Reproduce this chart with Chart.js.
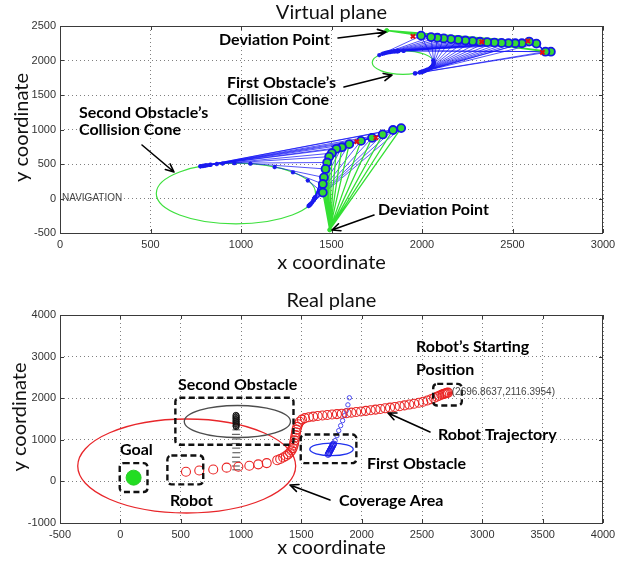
<!DOCTYPE html>
<html>
<head>
<meta charset="utf-8">
<script src="https://cdn.jsdelivr.net/npm/chart.js@4.4.1/dist/chart.umd.min.js"></script>
<style>
  html, body { margin: 0; padding: 0; background: #fff; }
  #wrap { position: relative; width: 624px; height: 561px; overflow: hidden; }
  canvas { position: absolute; left: 0; }
  #virtual { top: 0; }
  #real { top: 280px; }
</style>
</head>
<body>
<div id="wrap">
  <canvas id="virtual" width="624" height="280"></canvas>
  <canvas id="real" width="624" height="281"></canvas>
</div>
<script>
// ---------------- Virtual plane ----------------
const virtualXTicks = [0, 500, 1000, 1500, 2000, 2500, 3000];
const virtualYTicks = [-500, 0, 500, 1000, 1500, 2000, 2500];

// robot positions while avoiding the second obstacle
const secondPathX = [1885, 1840, 1783, 1724, 1663, 1598, 1557, 1527, 1502, 1487, 1476, 1467, 1458, 1452, 1452];
const secondPathY = [1020, 993, 928, 879, 835, 788, 743, 720, 657, 606, 522, 428, 305, 210, 87];
// tangent points of the cone on the second obstacle's circle
const secondTanUpX = [775, 777, 789, 796, 803, 812, 827, 833, 866, 898, 963, 1052, 1186, 1287, 1369];
const secondTanUpY = [466, 466, 472, 475, 478, 482, 487, 490, 499, 506, 512, 505, 456, 379, 261];
const secondTanLowX = [1373, 1377, 1381, 1387, 1393, 1400, 1403, 1406, 1407, 1408, 1408, 1408, 1406, 1402, 1380];
const secondTanLowY = [-110, -100, -90, -75, -56, -31, -15, -1, 9, 14, 14, 10, -2, -21, -91];
const secondDeviation = [1490, -455];
const secondCone = { cx: 972, cy: 72, rx: 440, ry: 440 };

// robot positions while avoiding the first obstacle
const firstPathX = [2712, 2682, 2632, 2592, 2552, 2515, 2478, 2440, 2400, 2360, 2320, 2280, 2240, 2200, 2160, 2120, 2085, 2050, 1995];
const firstPathY = [2128, 2128, 2245, 2275, 2250, 2250, 2252, 2255, 2260, 2266, 2272, 2280, 2290, 2300, 2310, 2320, 2330, 2340, 2360];
const firstTanUpX = [1898, 1898, 1871, 1863, 1867, 1866, 1864, 1861, 1857, 1852, 1847, 1840, 1832, 1823, 1813, 1802, 1792, 1781, 1764];
const firstTanUpY = [2140, 2140, 2138, 2137, 2138, 2137, 2137, 2137, 2136, 2135, 2133, 2131, 2128, 2124, 2119, 2112, 2105, 2096, 2078];
const firstTanLowX = [1961, 1963, 1987, 1996, 1997, 2001, 2007, 2012, 2019, 2026, 2033, 2041, 2048, 2054, 2059, 2063, 2065, 2065, 2062];
const firstTanLowY = [1813, 1814, 1827, 1833, 1834, 1837, 1842, 1847, 1854, 1862, 1871, 1882, 1896, 1910, 1927, 1945, 1961, 1977, 2001];
const firstDeviation = [1805, 2435];
const firstCone = { cx: 1895, cy: 1970, rx: 170, ry: 170 };

// highlighted (red) samples
const virtualRedX = [1950, 2330, 2585, 2665, 1640, 1745];
const virtualRedY = [2350, 2270, 2282, 2118, 825, 880];

// ---------------- Real plane ----------------
const realXTicks = [-500, 0, 500, 1000, 1500, 2000, 2500, 3000, 3500, 4000];
const realYTicks = [-1000, 0, 1000, 2000, 3000, 4000];

const robotX = [544, 654, 770, 881, 978, 1069, 1143, 1213, 1300, 1325, 1350, 1372, 1390, 1405, 1418, 1428, 1435, 1440,
  1444, 1448, 1452, 1456, 1460, 1466, 1474, 1486, 1505, 1530, 1562, 1598, 1636, 1675, 1715, 1755, 1795, 1835, 1875, 1915,
  1955, 1995, 2035, 2075, 2115, 2155, 2195, 2235, 2275, 2315, 2355, 2395, 2435, 2475, 2510, 2545, 2575, 2600, 2622, 2642,
  2660, 2674, 2684, 2692, 2700, 2708, 2716];
const robotY = [233, 262, 285, 330, 353, 377, 410, 440, 510, 540, 575, 610, 650, 695, 745, 800, 860, 920,
  985, 1050, 1115, 1180, 1245, 1310, 1375, 1435, 1485, 1520, 1542, 1558, 1572, 1585, 1597, 1608, 1618, 1628, 1640, 1653,
  1667, 1681, 1696, 1711, 1726, 1741, 1757, 1773, 1790, 1808, 1827, 1847, 1868, 1890, 1915, 1945, 1975, 2005, 2035, 2060,
  2082, 2098, 2107, 2114, 2120, 2127, 2134];
const robotStart = [2696.8637, 2116.3954];

// second obstacle motion
const obstacle2DenseX = [958, 962, 957, 961, 958, 962, 957, 961, 959, 962, 958, 960];
const obstacle2DenseY = [1590, 1565, 1540, 1515, 1490, 1465, 1440, 1415, 1390, 1365, 1340, 1315];
const obstacle2TrailX = [962, 958, 961, 957, 960, 962, 958, 960, 957, 961];
const obstacle2TrailY = [1240, 1130, 1020, 910, 800, 690, 580, 470, 370, 280];
// first obstacle motion
const obstacle1DenseX = [1722, 1727, 1731, 1736, 1740, 1745, 1749, 1754, 1758, 1763, 1767];
const obstacle1DenseY = [650, 675, 700, 725, 750, 775, 800, 825, 850, 875, 900];
const obstacle1TrailX = [1780, 1795, 1810, 1826, 1842, 1858, 1872, 1886, 1898];
const obstacle1TrailY = [980, 1100, 1220, 1340, 1460, 1580, 1700, 1840, 2010];

const goalX = [110];
const goalY = [90];

const coverageArea = { cx: 550, cy: 370, rx: 903, ry: 1130 };
const obstacle2Shape = { cx: 970, cy: 1440, rx: 440, ry: 385 };
const obstacle1Shape = { cx: 1750, cy: 770, rx: 180, ry: 150 };

// dashed call-out boxes [x0, x1, y0, y1]
const boxSecond = [456, 1435, 880, 2010];
const boxFirst = [1495, 1956, 440, 1128];
const boxGoal = [-5, 225, -256, 440];
const boxRobot = [390, 687, -72, 624];
const boxStart = [2593, 2830, 1824, 2344];

// ---------------- helpers ----------------
function pts(xs, ys) { return xs.map((x, i) => ({ x: x, y: ys[i] })); }

// many separate segments in one dataset, split by null gaps
function fan(fromX, fromY, toX, toY) {
  const out = [];
  for (let i = 0; i < toX.length; i++) {
    const fx = Array.isArray(fromX) ? fromX[i] : fromX;
    const fy = Array.isArray(fromY) ? fromY[i] : fromY;
    out.push({ x: fx, y: fy }, { x: toX[i], y: toY[i] }, { x: toX[i], y: null });
  }
  return out;
}

function linearAxis(ticks, fit, pad) {
  return {
    type: 'linear',
    min: ticks[0],
    max: ticks[ticks.length - 1],
    afterBuildTicks(s) { s.ticks = ticks.map(v => ({ value: v })); },
    afterFit(s) { if (s.isHorizontal()) s.height = fit; else s.width = fit; },
    ticks: {
      color: '#333', padding: pad, maxRotation: 0, autoSkip: false,
      font: { family: 'Liberation Sans', size: 11 },
      callback: v => String(v)
    },
    grid: { color: '#808080', lineWidth: 1, drawTicks: false },
    border: { display: false, dash: [1, 3] }
  };
}

function drawArrow(ctx, x1, y1, x2, y2) {
  const a = Math.atan2(y2 - y1, x2 - x1);
  const h = 9, s = 0.42;
  ctx.beginPath();
  ctx.moveTo(x1, y1); ctx.lineTo(x2, y2);
  ctx.moveTo(x2 - h * Math.cos(a - s), y2 - h * Math.sin(a - s));
  ctx.lineTo(x2, y2);
  ctx.lineTo(x2 - h * Math.cos(a + s), y2 - h * Math.sin(a + s));
  ctx.stroke();
}

function decor(cfg) {
  return {
    id: 'decor',
    beforeDatasetsDraw(chart) {
      const { ctx, chartArea: a, scales: { x: xs, y: ys } } = chart;
      ctx.save();
      ctx.beginPath(); ctx.rect(a.left, a.top, a.right - a.left, a.bottom - a.top); ctx.clip();
      (cfg.ellipses || []).forEach(e => {
        const cx = xs.getPixelForValue(e.shape.cx), cy = ys.getPixelForValue(e.shape.cy);
        const rx = Math.abs(xs.getPixelForValue(e.shape.cx + e.shape.rx) - cx);
        const ry = Math.abs(ys.getPixelForValue(e.shape.cy + e.shape.ry) - cy);
        ctx.beginPath();
        ctx.ellipse(cx, cy, rx, ry, e.rot || 0, 0, Math.PI * 2);
        ctx.strokeStyle = e.color; ctx.lineWidth = e.width;
        ctx.stroke();
      });
      ctx.restore();
    },
    afterDraw(chart) {
      const { ctx, chartArea: a, scales: { x: xs, y: ys } } = chart;
      ctx.save();
      // dashed call-out boxes
      ctx.strokeStyle = '#111'; ctx.lineWidth = 2.4; ctx.setLineDash([6, 3.5]);
      (cfg.boxes || []).forEach(b => {
        const x0 = xs.getPixelForValue(b[0]), x1 = xs.getPixelForValue(b[1]);
        const y0 = ys.getPixelForValue(b[3]), y1 = ys.getPixelForValue(b[2]);
        ctx.beginPath();
        ctx.roundRect(x0, y0, x1 - x0, y1 - y0, 4);
        ctx.stroke();
      });
      ctx.setLineDash([]);
      // axes frame with inward ticks
      ctx.strokeStyle = '#3a3a3a'; ctx.lineWidth = 1;
      ctx.strokeRect(a.left + 0.5, a.top + 0.5, a.right - a.left - 1, a.bottom - a.top);
      ctx.beginPath();
      xs.ticks.forEach(t => {
        const p = Math.round(xs.getPixelForValue(t.value)) + 0.5;
        ctx.moveTo(p, a.bottom); ctx.lineTo(p, a.bottom - 4);
        ctx.moveTo(p, a.top); ctx.lineTo(p, a.top + 4);
      });
      ys.ticks.forEach(t => {
        const p = Math.round(ys.getPixelForValue(t.value)) + 0.5;
        ctx.moveTo(a.left, p); ctx.lineTo(a.left + 4, p);
        ctx.moveTo(a.right, p); ctx.lineTo(a.right - 4, p);
      });
      ctx.stroke();
      // title and axis titles
      const mid = (a.left + a.right) / 2;
      ctx.fillStyle = '#111';
      ctx.textAlign = 'center'; ctx.textBaseline = 'middle';
      ctx.font = '20px Lato';
      ctx.fillText(cfg.title, mid, cfg.titleY);
      ctx.fillText('x coordinate', mid, cfg.xTitleY);
      ctx.save();
      ctx.translate(cfg.yTitleX, (a.top + a.bottom) / 2 - 2);
      ctx.rotate(-Math.PI / 2);
      ctx.fillText('y coordinate', 0, 0);
      ctx.restore();
      // small plain labels placed at data positions
      (cfg.plainLabels || []).forEach(l => {
        ctx.font = '10px Liberation Sans'; ctx.fillStyle = '#444';
        ctx.textAlign = 'left'; ctx.textBaseline = 'middle';
        ctx.fillText(l.text, xs.getPixelForValue(l.x) + l.dx, ys.getPixelForValue(l.y) + l.dy);
      });
      // bold call-out notes and arrows
      ctx.fillStyle = '#000'; ctx.textAlign = 'left'; ctx.textBaseline = 'middle';
      ctx.font = 'bold 16px Lato';
      (cfg.notes || []).forEach(n => {
        n.lines.forEach((s, i) => ctx.fillText(s, n.x, n.y + i * (n.lh || 17)));
      });
      ctx.strokeStyle = '#000'; ctx.lineWidth = 1.6; ctx.lineCap = 'round'; ctx.lineJoin = 'round';
      (cfg.arrows || []).forEach(r => drawArrow(ctx, r[0], r[1], r[2], r[3]));
      ctx.restore();
    }
  };
}

const blueLine = 'rgba(18,18,245,0.9)';
const greenLine = '#33e033';

// ---------------- Virtual plane chart ----------------
new Chart(document.getElementById('virtual'), {
  type: 'scatter',
  data: {
    datasets: [
      { // cone edges toward tangent points
        data: fan(secondPathX, secondPathY, secondTanUpX, secondTanUpY)
          .concat(fan(secondPathX, secondPathY, secondTanLowX, secondTanLowY))
          .concat(fan(firstPathX, firstPathY, firstTanUpX, firstTanUpY))
          .concat(fan(firstPathX, firstPathY, firstTanLowX, firstTanLowY)),
        showLine: true, spanGaps: false, borderColor: blueLine, borderWidth: 0.8, pointRadius: 0, order: 6
      },
      { // deviation fans
        data: fan(secondDeviation[0], secondDeviation[1], secondPathX, secondPathY)
          .concat(fan(firstDeviation[0], firstDeviation[1], firstPathX, firstPathY)),
        showLine: true, spanGaps: false, borderColor: greenLine, borderWidth: 1.3, pointRadius: 0, order: 5
      },
      { // tangent points
        data: pts(secondTanUpX, secondTanUpY).concat(pts(secondTanLowX, secondTanLowY))
          .concat(pts(firstTanUpX, firstTanUpY)).concat(pts(firstTanLowX, firstTanLowY)),
        pointStyle: 'star', pointRadius: 2.2, borderColor: '#1a1aee', borderWidth: 1.2, backgroundColor: '#1a1aee', order: 4
      },
      { // second obstacle path
        data: pts(secondPathX, secondPathY), showLine: true, borderColor: '#1515e8', borderWidth: 1.6,
        pointRadius: 4, pointBorderWidth: 1.8, pointBorderColor: '#1515e8', pointBackgroundColor: '#35d835', order: 3
      },
      { // first obstacle path
        data: pts(firstPathX, firstPathY), showLine: true, borderColor: '#1515e8', borderWidth: 1.6,
        pointRadius: 4, pointBorderWidth: 1.8, pointBorderColor: '#1515e8', pointBackgroundColor: '#35d835', order: 2
      },
      { // highlighted samples
        data: pts(virtualRedX, virtualRedY), pointStyle: 'crossRot', pointRadius: 3,
        borderColor: '#e01010', borderWidth: 2, backgroundColor: '#e01010', order: 1
      },
      { // deviation points
        data: pts([secondDeviation[0], firstDeviation[0]], [secondDeviation[1], firstDeviation[1]]),
        pointRadius: 2, backgroundColor: greenLine, borderColor: greenLine, order: 0
      }
    ]
  },
  options: {
    responsive: false, animation: false, events: [],
    layout: { padding: { top: 26, right: 21, left: 0, bottom: 0 } },
    plugins: { legend: { display: false }, tooltip: { enabled: false } },
    scales: {
      x: linearAxis(virtualXTicks, 47, 5),
      y: linearAxis(virtualYTicks, 60, 4)
    }
  },
  plugins: [decor({
    title: 'Virtual plane', titleY: 13, xTitleY: 263, yTitleX: 22,
    ellipses: [
      { shape: secondCone, color: '#3ee03e', width: 1.2 },
      { shape: firstCone, color: '#3ee03e', width: 1.2 }
    ],
    plainLabels: [{ text: 'NAVIGATION', x: 0, y: 0, dx: 2, dy: 0 }],
    notes: [
      { lines: ['Deviation Point'], x: 219, y: 40 },
      { lines: ['First Obstacle\u2019s', 'Collision Cone'], x: 227, y: 83, lh: 17 },
      { lines: ['Second Obstacle\u2019s', 'Collision Cone'], x: 79, y: 113, lh: 16.5 },
      { lines: ['Deviation Point'], x: 378, y: 210 }
    ],
    arrows: [[338, 38, 386, 32], [344, 87, 392, 75], [142, 145, 174, 172], [374, 215, 332, 230]]
  })]
});

// ---------------- Real plane chart ----------------
new Chart(document.getElementById('real'), {
  type: 'scatter',
  data: {
    datasets: [
      { // goal
        data: pts(goalX, goalY), pointRadius: 7.5, backgroundColor: '#22dd22', borderColor: '#2ccc2c', borderWidth: 1, order: 1
      },
      { // robot trajectory
        data: pts(robotX, robotY), pointRadius: 4.5, borderColor: '#ea2424', borderWidth: 1.1,
        backgroundColor: 'rgba(0,0,0,0)', order: 2
      },
      { data: pts(obstacle2DenseX, obstacle2DenseY), pointRadius: 3, borderColor: '#111', borderWidth: 1,
        backgroundColor: 'rgba(0,0,0,0)', order: 3 },
      { data: pts(obstacle2TrailX, obstacle2TrailY), pointStyle: 'line', pointRadius: 4, borderColor: '#666', borderWidth: 1.2, order: 4 },
      { data: pts(obstacle1DenseX, obstacle1DenseY), pointRadius: 3, borderColor: '#1a1ae8', borderWidth: 1,
        backgroundColor: 'rgba(0,0,0,0)', order: 3 },
      { data: pts(obstacle1TrailX, obstacle1TrailY), pointRadius: 2.2, borderColor: '#4a4af0', borderWidth: 1,
        backgroundColor: 'rgba(0,0,0,0)', order: 4 }
    ]
  },
  options: {
    responsive: false, animation: false, events: [],
    layout: { padding: { top: 35, right: 21, left: 0, bottom: 0 } },
    plugins: { legend: { display: false }, tooltip: { enabled: false } },
    scales: {
      x: linearAxis(realXTicks, 38, 5),
      y: linearAxis(realYTicks, 60, 4)
    }
  },
  plugins: [decor({
    title: 'Real plane', titleY: 21, xTitleY: 268, yTitleX: 20,
    ellipses: [
      { shape: coverageArea, color: '#e8262a', width: 1.3 },
      { shape: obstacle2Shape, color: '#4d4d4d', width: 1.3 },
      { shape: obstacle1Shape, color: '#2233ee', width: 1.3 }
    ],
    boxes: [boxSecond, boxFirst, boxGoal, boxRobot, boxStart],
    plainLabels: [{ text: '(' + robotStart[0] + ',' + robotStart[1] + ')', x: robotStart[0], y: robotStart[1], dx: 6, dy: -1 }],
    notes: [
      { lines: ['Robot\u2019s Starting', 'Position'], x: 416, y: 67, lh: 23 },
      { lines: ['Second Obstacle'], x: 178, y: 105 },
      { lines: ['Robot Trajectory'], x: 438, y: 155 },
      { lines: ['First Obstacle'], x: 367, y: 184 },
      { lines: ['Goal'], x: 120, y: 170 },
      { lines: ['Robot'], x: 170, y: 221 },
      { lines: ['Coverage Area'], x: 339, y: 221 }
    ],
    arrows: [[430, 152, 388, 133], [330, 220, 290, 205]]
  })]
});
</script>
</body>
</html>
